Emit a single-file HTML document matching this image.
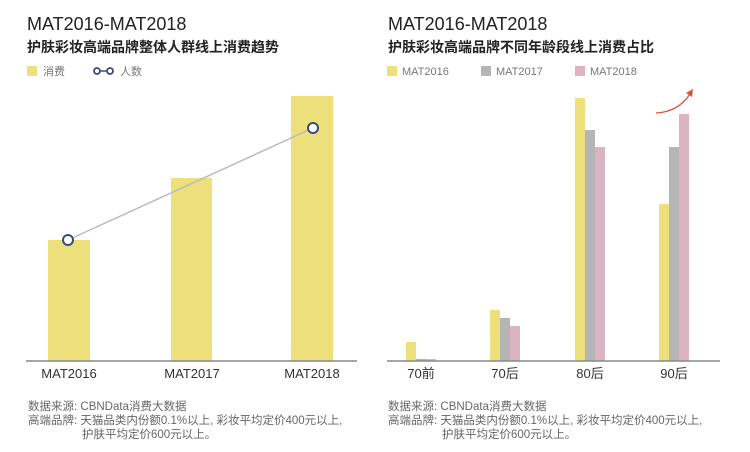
<!DOCTYPE html>
<html><head><meta charset="utf-8"><style>
body{margin:0;background:#fff;}
svg{display:block;font-family:"Liberation Sans","Noto Sans CJK SC",sans-serif;}
</style></head><body>
<svg width="750" height="452" viewBox="0 0 750 452">
<text x="27" y="30" font-size="18" fill="#222">MAT2016-MAT2018</text>
<text x="27" y="52" font-size="14" font-weight="bold" fill="#222">护肤彩妆高端品牌整体人群线上消费趋势</text>
<rect x="27" y="66" width="10" height="10" fill="#ede07a"/>
<text x="43" y="75" font-size="11" fill="#777">消费</text>
<line x1="97" y1="71" x2="110" y2="71" stroke="#3a4a80" stroke-width="1.5"/>
<circle cx="97" cy="71" r="3" fill="#fff" stroke="#3a4a80" stroke-width="1.8"/>
<circle cx="110" cy="71" r="3" fill="#fff" stroke="#3a4a80" stroke-width="1.8"/>
<text x="120" y="75" font-size="11" fill="#777">人数</text>
<rect x="48" y="240" width="42" height="121" fill="#ede07a"/>
<rect x="171" y="178" width="41" height="183" fill="#ede07a"/>
<rect x="291" y="96" width="42" height="265" fill="#ede07a"/>
<line x1="68" y1="240" x2="313" y2="128" stroke="#bbb" stroke-width="1.5"/>
<circle cx="68" cy="240" r="5" fill="#fff" stroke="#3a4a80" stroke-width="2"/>
<circle cx="313" cy="128" r="5" fill="#fff" stroke="#3a4a80" stroke-width="2"/>
<line x1="26" y1="361" x2="357" y2="361" stroke="#888" stroke-width="1.5"/>
<g font-size="13" fill="#333" text-anchor="middle">
<text x="69" y="378">MAT2016</text><text x="192" y="378">MAT2017</text><text x="312" y="378">MAT2018</text>
</g>
<text x="388" y="30" font-size="18" fill="#222">MAT2016-MAT2018</text>
<text x="388" y="52" font-size="14" font-weight="bold" fill="#222">护肤彩妆高端品牌不同年龄段线上消费占比</text>
<rect x="387" y="66" width="10" height="10" fill="#ede07a"/>
<text x="402" y="75" font-size="11" fill="#777">MAT2016</text>
<rect x="481" y="66" width="10" height="10" fill="#b5b5b5"/>
<text x="496" y="75" font-size="11" fill="#777">MAT2017</text>
<rect x="575" y="66" width="10" height="10" fill="#dcb3c3"/>
<text x="590" y="75" font-size="11" fill="#777">MAT2018</text>
<g>
<rect x="406" y="342" width="10" height="19" fill="#ede07a"/><rect x="416" y="359" width="10" height="2" fill="#b5b5b5"/><rect x="426" y="359" width="10" height="2" fill="#dcb3c3"/>
<rect x="490" y="310" width="10" height="51" fill="#ede07a"/><rect x="500" y="318" width="10" height="43" fill="#b5b5b5"/><rect x="510" y="326" width="10" height="35" fill="#dcb3c3"/>
<rect x="575" y="98" width="10" height="263" fill="#ede07a"/><rect x="585" y="130" width="10" height="231" fill="#b5b5b5"/><rect x="595" y="147" width="10" height="214" fill="#dcb3c3"/>
<rect x="659" y="204" width="10" height="157" fill="#ede07a"/><rect x="669" y="147" width="10" height="214" fill="#b5b5b5"/><rect x="679" y="114" width="10" height="247" fill="#dcb3c3"/>
</g>
<path d="M656 113 Q678 112 690 94" fill="none" stroke="#d9533f" stroke-width="1.3"/>
<path d="M693 89 L686 93 L692 97 Z" fill="#d9533f"/>
<line x1="387" y1="361" x2="720" y2="361" stroke="#888" stroke-width="1.5"/>
<g font-size="13" fill="#333" text-anchor="middle">
<text x="421" y="378">70前</text><text x="505" y="378">70后</text><text x="590" y="378">80后</text><text x="674" y="378">90后</text>
</g>
<g font-size="11.5" fill="#666">
<text x="28" y="410">数据来源: CBNData消费大数据</text>
<text x="28" y="424">高端品牌: 天猫品类内份额0.1%以上, 彩妆平均定价400元以上,</text>
<text x="82" y="438">护肤平均定价600元以上。</text>
<text x="388" y="410">数据来源: CBNData消费大数据</text>
<text x="388" y="424">高端品牌: 天猫品类内份额0.1%以上, 彩妆平均定价400元以上,</text>
<text x="442" y="438">护肤平均定价600元以上。</text>
</g>
</svg>
</body></html>
